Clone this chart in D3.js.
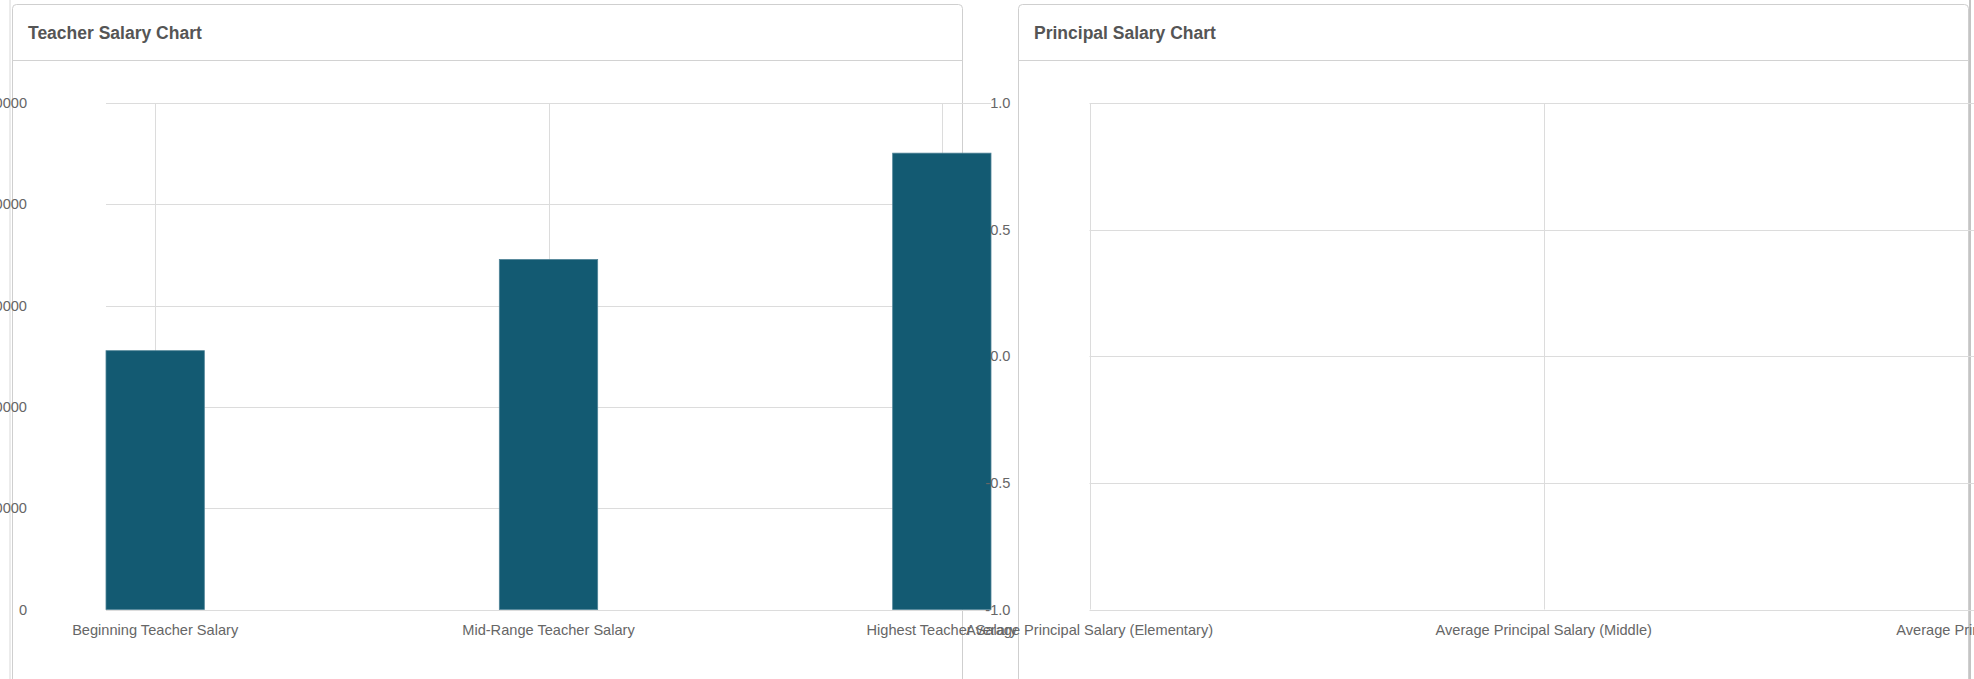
<!DOCTYPE html>
<html>
<head>
<meta charset="utf-8">
<title>Salary Charts</title>
<script src="https://cdn.jsdelivr.net/npm/d3@7"></script>
<style>
  html, body { margin: 0; padding: 0; background: #fff; overflow: hidden; }
  svg { display: block; font-family: "Liberation Sans", Arial, Helvetica, sans-serif; }
</style>
</head>
<body>
<svg id="chart" width="1974" height="679"></svg>
<script>
// Teacher salary bars
const teacherCategories = ["Beginning Teacher Salary", "Mid-Range Teacher Salary", "Highest Teacher Salary"];
const teacherSalaries = [51100, 69100, 90100];
const teacherTicks = [0, 20000, 40000, 60000, 80000, 100000];

// Principal salary chart (no values reported)
const principalCategories = ["Average Principal Salary (Elementary)", "Average Principal Salary (Middle)", "Average Principal Salary (High)"];
const principalSalaries = [];
const principalTicks = [-1, -0.5, 0, 0.5, 1];

const svg = d3.select("#chart");
const gridColor = "#dcdcdc";
const labelColor = "#666";
const barColor = "#135a72";
const labelSize = 14.6;

// Panels with header bars
function panel(x, w, title) {
  const g = svg.append("g");
  g.append("rect")
    .attr("x", x).attr("y", 4.5).attr("width", w).attr("height", 720)
    .attr("rx", 4).attr("fill", "#fff").attr("stroke", "#cfcfcf");
  g.append("line")
    .attr("x1", x).attr("x2", x + w).attr("y1", 60.5).attr("y2", 60.5)
    .attr("stroke", "#d2d2d2");
  g.append("text")
    .attr("x", x + 15.5).attr("y", 38.5)
    .attr("font-size", 17.5).attr("font-weight", "bold").attr("fill", "#555")
    .text(title);
}
svg.append("line").attr("x1", 10).attr("x2", 10).attr("y1", 0).attr("y2", 679)
  .attr("stroke", "#d8d8d8");
svg.append("line").attr("x1", 1970).attr("x2", 1970).attr("y1", 0).attr("y2", 679)
  .attr("stroke", "#c4c4c4").attr("stroke-width", 2);
panel(12.5, 950, "Teacher Salary Chart");
panel(1018.5, 950, "Principal Salary Chart");

// ---- Teacher chart ----
const tx = d3.scaleBand().domain(teacherCategories).range([106, 991])
  .paddingInner(0.75).paddingOuter(0);
const ty = d3.scaleLinear().domain([0, 100000]).range([609.5, 103]);
const tg = svg.append("g");

tg.selectAll(".hgrid").data(teacherTicks).join("line")
  .attr("x1", tx.range()[0]).attr("x2", tx.range()[1])
  .attr("y1", d => Math.round(ty(d)) + 0.5).attr("y2", d => Math.round(ty(d)) + 0.5)
  .attr("stroke", gridColor);
tg.selectAll(".vgrid").data(teacherCategories).join("line")
  .attr("x1", d => Math.round(tx(d) + tx.bandwidth() / 2) + 0.5)
  .attr("x2", d => Math.round(tx(d) + tx.bandwidth() / 2) + 0.5)
  .attr("y1", ty(100000)).attr("y2", ty(0))
  .attr("stroke", gridColor);
tg.selectAll(".bar").data(teacherCategories).join("rect")
  .attr("x", d => tx(d)).attr("width", tx.bandwidth())
  .attr("y", (d, i) => ty(teacherSalaries[i]))
  .attr("height", (d, i) => ty(0) - ty(teacherSalaries[i]))
  .attr("fill", barColor).attr("stroke", "#4f8397").attr("stroke-width", 0.8);
tg.selectAll(".ylab").data(teacherTicks).join("text")
  .attr("x", 27).attr("y", d => ty(d)).attr("dy", "0.35em")
  .attr("text-anchor", "end").attr("font-size", labelSize).attr("fill", labelColor)
  .text(d => d3.format("d")(d));
tg.selectAll(".xlab").data(teacherCategories).join("text")
  .attr("x", d => tx(d) + tx.bandwidth() / 2).attr("y", 635)
  .attr("text-anchor", "middle").attr("font-size", labelSize).attr("fill", labelColor)
  .text(d => d);

// ---- Principal chart ----
const px = d3.scalePoint().domain(principalCategories).range([1089.5, 1998]);
const py = d3.scaleLinear().domain([-1, 1]).range([609.5, 103]);
const pg = svg.append("g");
const fmt = v => d3.format(".1f")(v).replace("\u2212", "-");

pg.selectAll(".hgrid").data(principalTicks).join("line")
  .attr("x1", px.range()[0]).attr("x2", px.range()[1])
  .attr("y1", d => Math.round(py(d)) + 0.5).attr("y2", d => Math.round(py(d)) + 0.5)
  .attr("stroke", gridColor);
pg.selectAll(".vgrid").data(principalCategories).join("line")
  .attr("x1", d => Math.round(px(d)) + 0.5).attr("x2", d => Math.round(px(d)) + 0.5)
  .attr("y1", py(1)).attr("y2", py(-1))
  .attr("stroke", gridColor);
pg.selectAll(".bar").data(principalSalaries).join("rect")
  .attr("x", (d, i) => px(principalCategories[i]) - 49).attr("width", 98)
  .attr("y", d => py(Math.max(d, 0))).attr("height", d => Math.abs(py(d) - py(0)))
  .attr("fill", barColor);
pg.selectAll(".ylab").data(principalTicks).join("text")
  .attr("x", 1010.5).attr("y", d => py(d)).attr("dy", "0.35em")
  .attr("text-anchor", "end").attr("font-size", labelSize).attr("fill", labelColor)
  .text(fmt);
pg.selectAll(".xlab").data(principalCategories).join("text")
  .attr("x", d => px(d)).attr("y", 635)
  .attr("text-anchor", "middle").attr("font-size", labelSize).attr("fill", labelColor)
  .text(d => d);
</script>
</body>
</html>
